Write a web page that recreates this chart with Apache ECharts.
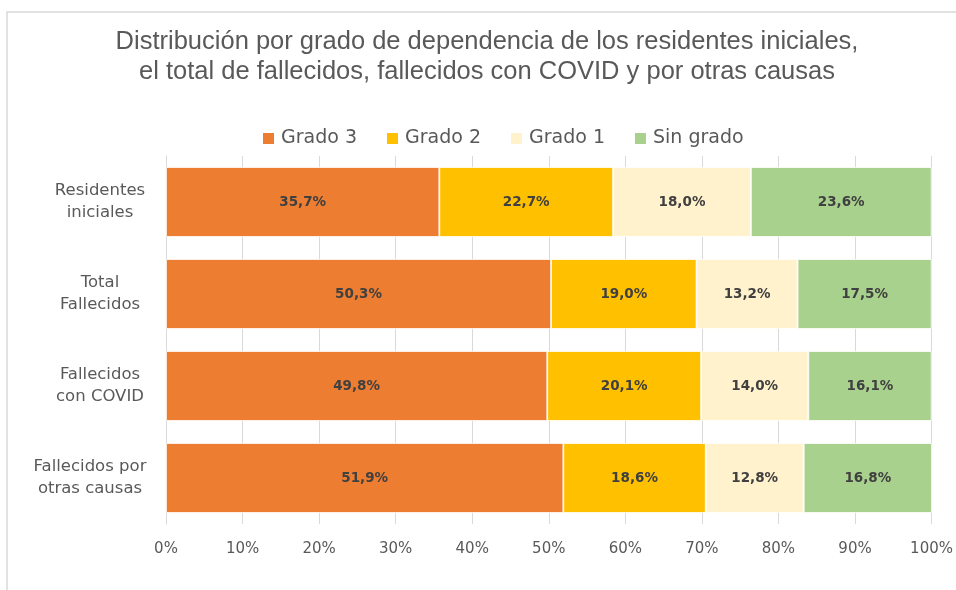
<!DOCTYPE html>
<html>
<head>
<meta charset="utf-8">
<script src="https://cdn.jsdelivr.net/npm/echarts@6/dist/echarts.min.js"></script>
<style>
  html, body { margin: 0; padding: 0; background: #ffffff; overflow: hidden; }
  #chart { width: 956px; height: 590px; }
</style>
</head>
<body>
<div id="chart"></div>
<script>
// Groups shown on the vertical axis, top to bottom
const categories = [
  'Residentes\niniciales',
  'Total\nFallecidos',
  'Fallecidos\ncon COVID',
  'Fallecidos por\notras causas'
];

// Share (%) of each dependency grade per group
const grado3 = [35.7, 50.3, 49.8, 51.9];
const grado2 = [22.7, 19.0, 20.1, 18.6];
const grado1 = [18.0, 13.2, 14.0, 12.8];
const sinGrado = [23.6, 17.5, 16.1, 16.8];

const seriesNames = ['Grado 3', 'Grado 2', 'Grado 1', 'Sin grado'];
const seriesValues = [grado3, grado2, grado1, sinGrado];
const seriesColors = ['#ED7D31', '#FFC000', '#FFF2CC', '#A9D18E'];

const labelFont = 'DejaVu Sans, Verdana, sans-serif';

const chart = echarts.init(document.getElementById('chart'), null, { renderer: 'canvas' });

chart.setOption({
  animation: false,
  backgroundColor: '#ffffff',
  graphic: [{
    type: 'rect',
    shape: { x: 7, y: 12, width: 1000, height: 700 },
    style: { fill: 'none', stroke: '#d9d9d9', lineWidth: 1.5 },
    silent: true
  }],
  title: {
    text: 'Distribución por grado de dependencia de los residentes iniciales,\nel total de fallecidos, fallecidos con COVID y por otras causas',
    left: 482,
    textAlign: 'center',
    top: 22,
    textStyle: {
      fontFamily: 'Liberation Sans, Arial, sans-serif',
      fontWeight: 'normal',
      fontSize: 25.5,
      lineHeight: 30,
      color: '#595959'
    }
  },
  legend: {
    data: seriesNames,
    left: 256,
    top: 124,
    icon: 'rect',
    itemWidth: 13,
    itemHeight: 13,
    itemGap: 28,
    textStyle: {
      fontFamily: labelFont,
      fontSize: 19,
      color: '#595959',
      padding: [0, 0, 0, 1]
    }
  },
  grid: { left: 166, width: 768, top: 156, bottom: 66, containLabel: false },
  xAxis: {
    type: 'value',
    min: 0,
    max: 100,
    interval: 10,
    axisLine: { show: false },
    axisTick: { show: false },
    splitLine: { lineStyle: { color: '#d9d9d9', width: 1 } },
    axisLabel: {
      formatter: '{value}%',
      fontFamily: labelFont,
      fontSize: 15,
      color: '#595959',
      margin: 18
    }
  },
  yAxis: {
    type: 'category',
    data: categories,
    inverse: true,
    axisLine: { show: true, lineStyle: { color: '#d9d9d9', width: 1 } },
    axisTick: { show: false },
    axisLabel: {
      fontFamily: labelFont,
      fontSize: 16.5,
      lineHeight: 22,
      color: '#595959',
      align: 'center',
      margin: 66,
      // the widest label sits a little further left
      formatter: (v, i) => i === 3 ? '{w|' + v.split('\n').join('}\n{w|') + '}' : v,
      rich: {
        w: { fontFamily: labelFont, fontSize: 16.5, lineHeight: 22, color: '#595959', padding: [0, 20, 0, 0] }
      }
    }
  },
  series: seriesNames.map((name, i) => ({
    name: name,
    type: 'bar',
    stack: 'total',
    barWidth: '76%',
    data: seriesValues[i],
    itemStyle: { color: seriesColors[i], borderColor: '#ffffff', borderWidth: 0.8 },
    label: {
      show: true,
      position: 'inside',
      formatter: p => p.value.toFixed(1).replace('.', ',') + '%',
      fontFamily: labelFont,
      fontWeight: 'bold',
      fontSize: 13.5,
      color: '#404040'
    }
  }))
});
</script>
</body>
</html>
